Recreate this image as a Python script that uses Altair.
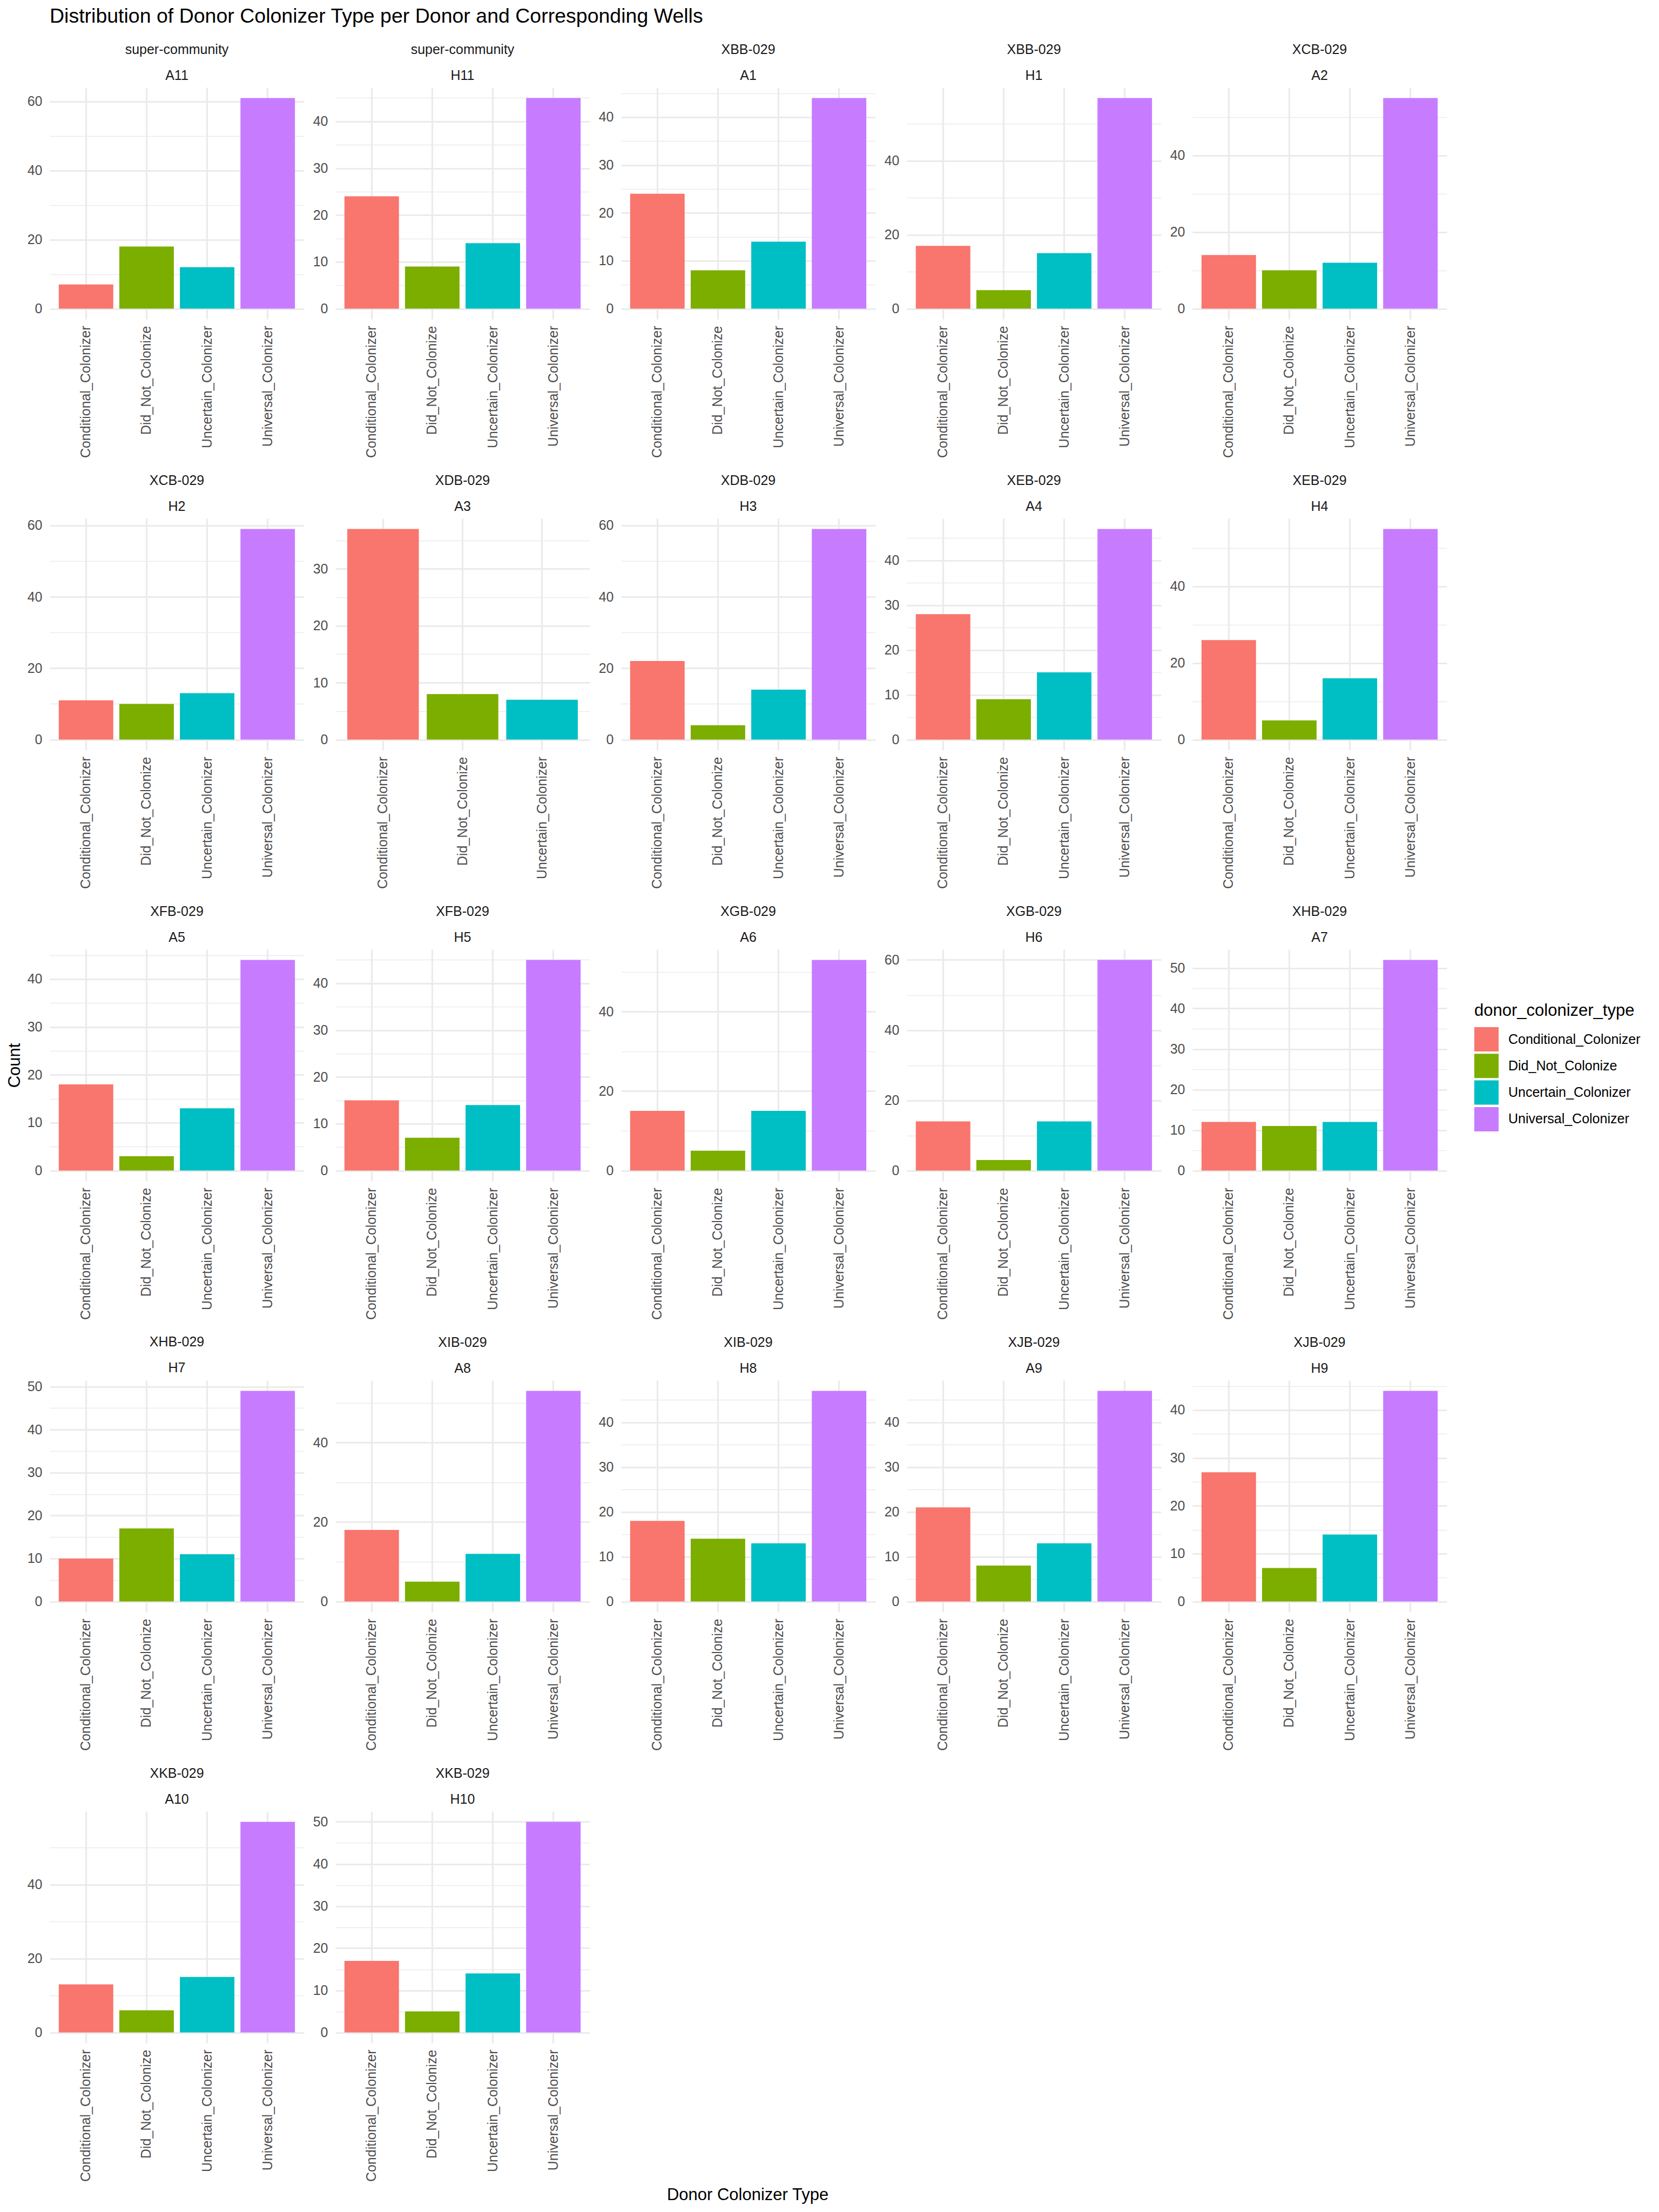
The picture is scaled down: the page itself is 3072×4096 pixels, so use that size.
import altair as alt
import pandas as pd

# ---------------- data ----------------
wells = ["A11", "H11", "A1", "H1", "A2", "H2", "A3", "H3", "A4", "H4", "A5",
         "H5", "A6", "H6", "A7", "H7", "A8", "H8", "A9", "H9", "A10", "H10"]
donors = ["super-community", "super-community", "XBB-029", "XBB-029",
          "XCB-029", "XCB-029", "XDB-029", "XDB-029", "XEB-029", "XEB-029",
          "XFB-029", "XFB-029", "XGB-029", "XGB-029", "XHB-029", "XHB-029",
          "XIB-029", "XIB-029", "XJB-029", "XJB-029", "XKB-029", "XKB-029"]
types = ["Conditional_Colonizer", "Did_Not_Colonize",
         "Uncertain_Colonizer", "Universal_Colonizer"]
conditional = [7, 24, 24, 17, 14, 11, 37, 22, 28, 26, 18, 15, 15, 14, 12, 10, 18, 18, 21, 27, 13, 17]
did_not = [18, 9, 8, 5, 10, 10, 8, 4, 9, 5, 3, 7, 5, 3, 11, 17, 5, 14, 8, 7, 6, 5]
uncertain = [12, 14, 14, 15, 12, 13, 7, 14, 15, 16, 13, 14, 15, 14, 12, 11, 12, 13, 13, 14, 15, 14]
universal = [61, 45, 44, 57, 55, 59, None, 59, 47, 55, 44, 45, 53, 60, 52, 49, 53, 47, 47, 44, 57, 50]
colors = ["#F8766D", "#7CAE00", "#00BFC4", "#C77CFF"]

rows = []
for i, w in enumerate(wells):
    for t, series in zip(types, [conditional, did_not, uncertain, universal]):
        if series[i] is not None:
            rows.append({"well": w, "donor": donors[i], "type": t, "count": series[i]})
df = pd.DataFrame(rows)

# ---------------- layout (output px) ----------------
PW, PH = 471, 429
COL_SP, ROW_SP = 58, 369
FONT = "Liberation Sans"
GRID = "#EBEBEB"
MAJOR_W, MINOR_W = 3.2, 1.6


def panel(i):
    w = wells[i]
    sub = df[df["well"] == w]
    m = float(sub["count"].max())
    step = 10 if m <= 52 else 20
    half = step // 2
    lo, hi = -0.05 * m, 1.05 * m
    vals = list(range(0, int(hi) + 1, half))

    ytitle = "Count" if w == "A5" else None
    xtitle = "Donor Colonizer Type" if w == "H10" else None

    yaxis_kw = dict(
        values=vals,
        labelExpr=f"datum.value % {step} === 0 ? datum.label : ''",
        gridWidth={"condition": {"test": f"datum.value % {step} === 0", "value": MAJOR_W},
                   "value": MINOR_W},
        gridColor=GRID, domain=False, ticks=False, tickSize=0,
        labelFontSize=25, labelColor="#4D4D4D", labelPadding=14, labelFont=FONT,
    )
    if ytitle:
        yaxis_kw.update(title=ytitle, titleFontSize=31, titleColor="black",
                        titleFontWeight="normal", titleFont=FONT, titleX=-65,
                        titleY=PH / 2, titleAngle=270, titleAlign="center",
                        titleBaseline="middle")
    else:
        yaxis_kw.update(title=None)

    xaxis_kw = dict(
        labelAngle=270, labelFontSize=25, labelColor="#4D4D4D", labelPadding=12,
        labelFont=FONT, labelLimit=600, labelOverlap=False, ticks=False, tickSize=0,
        domain=False, grid=True, gridColor=GRID, gridWidth=MAJOR_W, bandPosition=0.5,
    )
    if xtitle:
        xaxis_kw.update(title=xtitle, titleFontSize=31, titleColor="black",
                        titleFontWeight="normal", titleFont=FONT, titleX=763,
                        titleY=290, titleAngle=0, titleAlign="center",
                        titleBaseline="alphabetic")
    else:
        xaxis_kw.update(title=None)

    return alt.Chart(sub).mark_bar().encode(
        x=alt.X("type:N", scale=alt.Scale(paddingInner=0.1, paddingOuter=0.15),
                axis=alt.Axis(**xaxis_kw)),
        y=alt.Y("count:Q", stack=None,
                scale=alt.Scale(domain=[lo, hi], nice=False, zero=False),
                axis=alt.Axis(**yaxis_kw)),
        color=alt.Color("type:N", scale=alt.Scale(domain=types, range=colors),
                        legend=alt.Legend(
                            title="donor_colonizer_type", orient="none",
                            legendX=2638, legendY=1695, padding=0,
                            titleFontSize=31, titleColor="black", titleFontWeight="normal",
                            titleFont=FONT, titlePadding=14, titleLimit=800,
                            labelFontSize=25, labelColor="black", labelFont=FONT,
                            labelLimit=800,
                            labelOffset=18, symbolType="square", symbolSize=2025,
                            symbolStrokeWidth=0, symbolOpacity=1, rowPadding=4.3)),
    ).properties(
        width=PW, height=PH,
        title=alt.TitleParams(text=[donors[i], w], fontSize=25, font=FONT,
                              fontWeight="normal", color="#1A1A1A", anchor="middle",
                              baseline="bottom", lineHeight=48, offset=-15.5, frame="group"),
    )


charts = [panel(i) for i in range(len(wells))]

chart = alt.concat(*charts, columns=5, spacing={"row": ROW_SP, "column": COL_SP},
                   bounds="flush").resolve_scale(
    x="independent", y="independent", color="shared"
).properties(
    title=alt.TitleParams(
        "Distribution of Donor Colonizer Type per Donor and Corresponding Wells",
        fontSize=37.5, font=FONT, fontWeight="normal", color="black",
        anchor="start", frame="group", offset=30),
    padding={"left": 11, "top": 12, "right": 20, "bottom": 20},
    background="white",
).configure_view(stroke=None)

chart.save("out.html", embed_options={"renderer": "svg", "actions": False})
